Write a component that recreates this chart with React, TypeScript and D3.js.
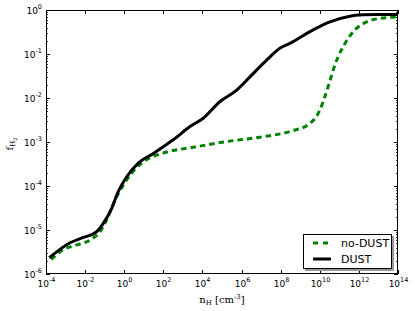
import * as d3 from "d3";

// log10 values
const dustLogN = [-3.83, -2.77, -2.09, -1.41, -1.07, -0.64, -0.35, 0.13, 0.72, 1.49, 2.25, 2.51, 3.36, 4.04, 4.9, 5.75, 6.43, 7.28, 7.96, 8.47, 9.5, 10.52, 11.54, 12.22, 13.0, 14.0];
const dustLogF = [-5.63, -5.29, -5.17, -5.04, -4.85, -4.51, -4.17, -3.79, -3.48, -3.26, -3.03, -2.95, -2.65, -2.46, -2.08, -1.82, -1.52, -1.14, -0.87, -0.76, -0.49, -0.27, -0.14, -0.11, -0.1, -0.1];

const noDustLogN = [-3.74, -3.12, -2.43, -1.75, -1.24, -0.9, -0.47, -0.05, 0.38, 0.97, 1.66, 2.25, 3.53, 5.24, 6.94, 8.64, 9.5, 10.01, 10.26, 10.48, 10.69, 10.94, 11.29, 11.8, 12.4, 13.08, 14.0];
const noDustLogF = [-5.67, -5.45, -5.34, -5.23, -5.04, -4.77, -4.32, -3.98, -3.71, -3.45, -3.3, -3.22, -3.12, -2.99, -2.89, -2.74, -2.58, -2.27, -1.97, -1.67, -1.36, -1.06, -0.76, -0.45, -0.27, -0.19, -0.16];

const xTickExps = [-4, -2, 0, 2, 4, 6, 8, 10, 12, 14];
const yTickExps = [0, -1, -2, -3, -4, -5, -6];
const legendLabels = ["no-DUST", "DUST"];

const W = 415;
const H = 311;
const margin = { left: 46, right: 17, top: 10, bottom: 37 };
const GREEN = "#008000";
const DASH = "5.5,4";

export default function App() {
  const x = d3
    .scaleLog()
    .domain([1e-4, 1e14])
    .range([margin.left, W - margin.right]);
  const y = d3
    .scaleLog()
    .domain([1e-6, 1])
    .range([H - margin.bottom, margin.top]);

  const line = d3
    .line<[number, number]>()
    .x((d) => x(10 ** d[0]))
    .y((d) => y(10 ** d[1]))
    .curve(d3.curveMonotoneX);

  const dust = dustLogN.map((v, i) => [v, dustLogF[i]] as [number, number]);
  const noDust = noDustLogN.map((v, i) => [v, noDustLogF[i]] as [number, number]);

  const [x0, x1] = x.range();
  const [y0, y1] = y.range();

  // minor ticks on y: 2..9 x 10^k
  const yMinor: number[] = [];
  for (let e = -6; e < 0; e++) {
    for (let m = 2; m <= 9; m++) yMinor.push(m * 10 ** e);
  }

  const tickFont = "DejaVu Sans";
  const serif = "DejaVu Serif";

  return (
    <svg
      width={W}
      height={H}
      style={{ position: "absolute", left: 0, top: 0, background: "#fff" }}
    >
      <defs>
        <clipPath id="plot">
          <rect x={x0} y={y1} width={x1 - x0} height={y0 - y1} />
        </clipPath>
      </defs>

      {/* curves */}
      <g clipPath="url(#plot)">
        <path
          d={line(noDust)!}
          fill="none"
          stroke={GREEN}
          strokeWidth={3}
          strokeDasharray={DASH}
        />
        <path d={line(dust)!} fill="none" stroke="#000" strokeWidth={3} />
      </g>

      {/* frame */}
      <rect
        x={x0 + 0.5}
        y={y1 + 0.5}
        width={x1 - x0 - 1}
        height={y0 - y1 - 1}
        fill="none"
        stroke="#000"
        strokeWidth={1}
      />

      {/* x ticks, bottom and top */}
      {xTickExps.map((e) => {
        const px = Math.round(x(10 ** e)) + 0.5;
        return (
          <g key={e}>
            <line x1={px} x2={px} y1={y0} y2={y0 - 4} stroke="#000" />
            <line x1={px} x2={px} y1={y1} y2={y1 + 4} stroke="#000" />
            <text
              x={px}
              y={y0 + 13}
              textAnchor="middle"
              fontFamily={tickFont}
              fontSize={9}
            >
              10
              <tspan dy={-5} fontSize={6.5}>
                {e < 0 ? `-${-e}` : e}
              </tspan>
            </text>
          </g>
        );
      })}

      {/* y ticks, left and right */}
      {yMinor.map((v, i) => {
        const py = Math.round(y(v)) + 0.5;
        return (
          <g key={i}>
            <line x1={x0} x2={x0 + 2} y1={py} y2={py} stroke="#000" strokeWidth={0.8} />
            <line x1={x1} x2={x1 - 2} y1={py} y2={py} stroke="#000" strokeWidth={0.8} />
          </g>
        );
      })}
      {yTickExps.map((e) => {
        const py = Math.round(y(10 ** e)) + 0.5;
        return (
          <g key={e}>
            <line x1={x0} x2={x0 + 4} y1={py} y2={py} stroke="#000" />
            <line x1={x1} x2={x1 - 4} y1={py} y2={py} stroke="#000" />
            <text
              x={x0 - 4}
              y={py + 3.5}
              textAnchor="end"
              fontFamily={tickFont}
              fontSize={9}
            >
              10
              <tspan dy={-5} fontSize={6.5}>
                {e < 0 ? `-${-e}` : e}
              </tspan>
            </text>
          </g>
        );
      })}

      {/* axis labels */}
      <text
        x={(x0 + x1) / 2}
        y={H - 8}
        textAnchor="middle"
        fontFamily={serif}
        fontSize={10}
      >
        n
        <tspan dy={2} fontSize={7}>
          H
        </tspan>
        <tspan dy={-2}> [cm</tspan>
        <tspan dy={-4} fontSize={7}>
          -3
        </tspan>
        <tspan dy={4}>]</tspan>
      </text>
      <text
        transform={`translate(13,${(y0 + y1) / 2 + 2}) rotate(-90)`}
        textAnchor="middle"
        fontFamily={serif}
        fontSize={10}
      >
        f
        <tspan dy={2} fontSize={7}>
          H
        </tspan>
        <tspan dy={1.5} fontSize={5}>
          2
        </tspan>
      </text>

      {/* legend */}
      <g>
        <rect x={305} y={236} width={89} height={35} fill="#999" />
        <rect
          x={303.5}
          y={234.5}
          width={88}
          height={34}
          fill="#fff"
          stroke="#000"
          strokeWidth={1}
        />
        {legendLabels.map((label, i) => {
          const ly = 243 + i * 16;
          return (
            <g key={label}>
              <line
                x1={313}
                x2={331}
                y1={ly}
                y2={ly}
                stroke={i === 0 ? GREEN : "#000"}
                strokeWidth={3}
                strokeDasharray={i === 0 ? "5,5" : undefined}
              />
              <text
                x={341}
                y={ly + 4}
                fontFamily={tickFont}
                fontSize={11}
              >
                {label}
              </text>
            </g>
          );
        })}
      </g>
    </svg>
  );
}
